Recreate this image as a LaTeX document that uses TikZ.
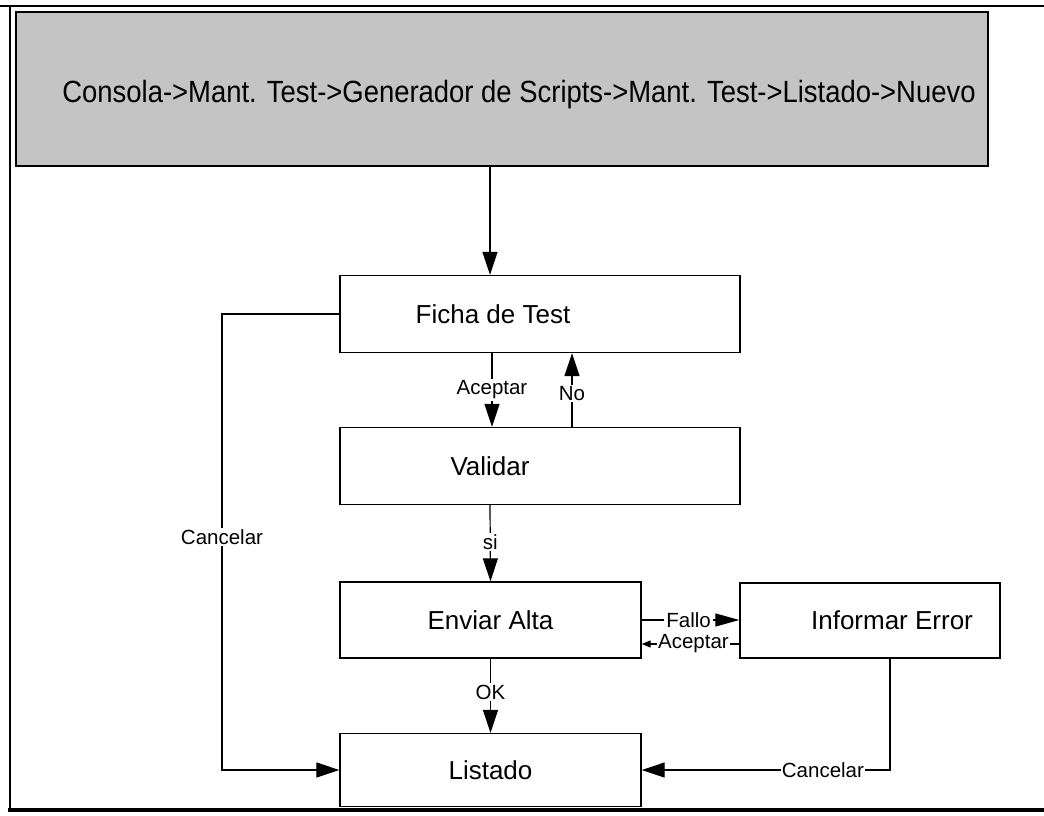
\documentclass[tikz,border=0pt]{standalone}
\usepackage{fontspec}
\setmainfont{Liberation Sans}
\usetikzlibrary{arrows.meta}

\tikzset{
  x=1pt, y=-1pt,
  boxfont/.style={font=\fontsize{26}{30}\selectfont},
  stepbox/.style={draw, line width=1.4pt, rectangle, inner sep=0pt, fill=white, boxfont},
  lbl/.style={fill=white, inner sep=1.5pt, font=\fontsize{20.5}{24}\selectfont},
  arr/.style={line width=1.2pt, -{Triangle[length=23pt,width=15pt]}},
  smallarr/.style={line width=1.2pt, -{Triangle[length=9pt,width=7pt]}},
  frame/.style={line width=#1, line cap=rect},
}

\begin{document}
\begin{tikzpicture}
\useasboundingbox (0,0) rectangle (1044,816);

% page frame
\draw[frame=2pt] (0,6) -- (1044,6);
\draw[frame=1.8pt] (10,6) -- (10,810);
\draw[frame=4pt] (10,810) -- (1044,810);

% navigation path header
\node[draw, line width=1.5pt, fill=black!23, minimum width=972pt, minimum height=154pt,
      inner sep=0pt] (hdr) at (502,89) {};
\node[font=\fontsize{29.5}{34}\selectfont] (hdrT) at (519,95)
  {\scalebox{0.93}[1.04]{Consola->Mant. Test->Generador de Scripts->Mant. Test->Listado->Nuevo}};

% process boxes
\node[stepbox, minimum width=400pt, minimum height=77pt,
      label={[xshift=-47pt, boxfont]center:Ficha de Test}] (ficha) at (540,314) {};
\node[stepbox, minimum width=400pt, minimum height=77pt,
      label={[xshift=-50pt, boxfont]center:Validar}] (valid) at (540,466) {};
\node[stepbox, minimum width=301pt, minimum height=76pt] (envia) at (490.5,620) {Enviar Alta};
\node[stepbox, minimum width=260pt, minimum height=75pt,
      label={[xshift=22pt, boxfont]center:Informar Error}] (error) at (870,620.5) {};
\node[stepbox, minimum width=301pt, minimum height=73pt] (lista) at (490.5,770) {Listado};

% anchor points on the box edges
\coordinate (fichaIn)  at ([xshift=-50pt]ficha.north);
\coordinate (fichaOut) at ([xshift=-48pt]ficha.south);
\coordinate (fichaNo)  at ([xshift=32pt]ficha.south);
\coordinate (validIn)  at ([xshift=-48pt]valid.north);
\coordinate (validNo)  at ([xshift=32pt]valid.north);
\coordinate (validSi)  at ([xshift=-50pt]valid.south);
\coordinate (enviaFallo) at (envia.east);
\coordinate (enviaBack)  at ([yshift=-24pt]envia.east);
\coordinate (errorBack)  at (error.west |- enviaBack);
\coordinate (errorOut)   at ([xshift=20pt]error.south);
\coordinate (cancelL)    at (222,0);

% connectors
\draw[arr] (hdr.south -| fichaIn) -- (fichaIn);
\draw[arr] (fichaOut) -- node[lbl, pos=0.5] {Aceptar} (validIn);
\draw[arr] (validNo) -- node[lbl, pos=0.45] {No} (fichaNo);
\draw[arr] (validSi) -- node[lbl, pos=0.48] {si} (envia.north);
\draw[arr] (envia.south) -- node[lbl, pos=0.45] {OK} (lista.north);
\draw[arr] (ficha.west) -- (ficha.west -| cancelL)
   -- node[lbl, pos=0.49] {Cancelar} (lista.west -| cancelL) -- (lista.west);
\draw[line width=1.2pt, -{Triangle[length=24pt,width=13pt]}] (enviaFallo)
   -- node[lbl, pos=0.48, inner xsep=2pt] {Fallo} (enviaFallo -| error.west);
\draw[smallarr] (errorBack) -- node[lbl, pos=0.47, inner xsep=1pt] {Aceptar} (enviaBack);
\draw[arr] (errorOut) -- (errorOut |- lista.east)
   -- node[lbl, pos=0.27, inner xsep=1pt] {Cancelar} (lista.east);
\end{tikzpicture}
\end{document}
